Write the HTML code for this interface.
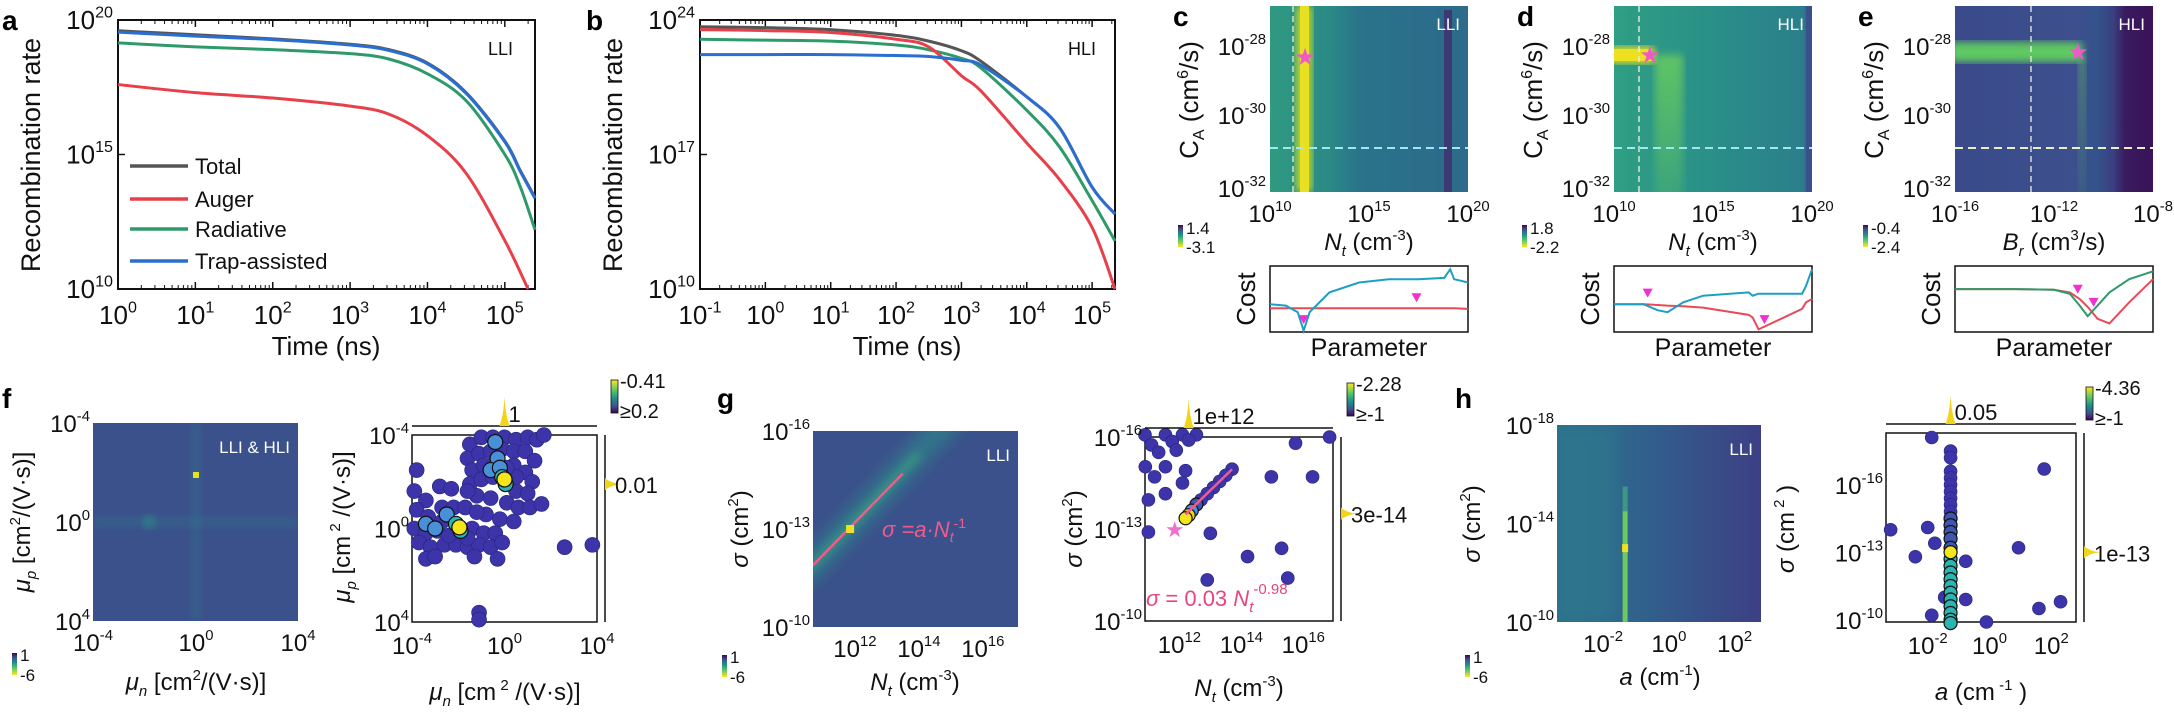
<!DOCTYPE html>
<html><head><meta charset="utf-8">
<style>
html,body{margin:0;padding:0;background:#fff;}
svg{display:block;font-family:"Liberation Sans Narrow","Liberation Sans",Arial,sans-serif;}
</style></head>
<body>
<svg id="fig" width="2174" height="719" viewBox="0 0 2174 719" xmlns="http://www.w3.org/2000/svg">
<defs>
<linearGradient id="vir" x1="0" y1="0" x2="0" y2="1">
<stop offset="0" stop-color="#fde725"/><stop offset="0.3" stop-color="#5ec962"/><stop offset="0.55" stop-color="#21918c"/><stop offset="0.8" stop-color="#3b528b"/><stop offset="1" stop-color="#440154"/>
</linearGradient>
<linearGradient id="virR" x1="0" y1="1" x2="0" y2="0">
<stop offset="0" stop-color="#fde725"/><stop offset="0.3" stop-color="#5ec962"/><stop offset="0.55" stop-color="#21918c"/><stop offset="0.8" stop-color="#3b528b"/><stop offset="1" stop-color="#440154"/>
</linearGradient>
<linearGradient id="gc" x1="0" x2="1"><stop offset="0" stop-color="#2f9a80"/><stop offset="0.3" stop-color="#2b8a86"/><stop offset="0.45" stop-color="#2a738a"/><stop offset="1" stop-color="#2d6a8b"/></linearGradient>
<linearGradient id="gd" x1="0" x2="1"><stop offset="0" stop-color="#2f9f84"/><stop offset="0.5" stop-color="#2a8f88"/><stop offset="0.95" stop-color="#2b7f8b"/><stop offset="1" stop-color="#3b4f8b"/></linearGradient>
<linearGradient id="ge" x1="0" x2="1"><stop offset="0" stop-color="#3a4a8b"/><stop offset="0.6" stop-color="#3d4f8c"/><stop offset="0.72" stop-color="#33538c"/><stop offset="0.8" stop-color="#3b3f80"/><stop offset="0.86" stop-color="#3a1a5e"/><stop offset="1" stop-color="#3a1258"/></linearGradient>
<linearGradient id="gh" x1="0" x2="1"><stop offset="0" stop-color="#2d6f8c"/><stop offset="0.4" stop-color="#30628c"/><stop offset="1" stop-color="#3d3f85"/></linearGradient>
<linearGradient id="gvfade" x1="0" y1="0" x2="0" y2="1"><stop offset="0" stop-color="#6ccf5c" stop-opacity="0.8"/><stop offset="1" stop-color="#6ccf5c" stop-opacity="0.2"/></linearGradient>
<filter id="blur4"><feGaussianBlur stdDeviation="4"/></filter>
<filter id="blur8"><feGaussianBlur stdDeviation="8"/></filter>
</defs>
</svg>
<script>
// ---------- data: panel a (LLI), log10 time and log10 rate ----------
const aTime = [0, 1, 2, 3, 3.5, 4, 4.5, 5, 5.2, 5.39];
const aTotal = [19.6, 19.45, 19.3, 19.1, 18.9, 18.4, 17.3, 15.5, 14.4, 13.4];
const aTrap = [19.55, 19.4, 19.27, 19.07, 18.87, 18.37, 17.27, 15.47, 14.37, 13.37];
const aRadTime = [0, 1, 2, 3, 3.5, 4, 4.5, 5, 5.2, 5.39];
const aRad = [19.15, 19.0, 18.9, 18.75, 18.55, 18.0, 17.0, 15.0, 13.8, 12.2];
const aAugTime = [0, 1, 2, 3, 3.5, 4, 4.5, 5, 5.3];
const aAug = [17.6, 17.3, 17.1, 16.8, 16.5, 15.7, 14.3, 11.8, 10.0];
// ---------- panel b (HLI) ----------
const bTime = [-1, 0, 1, 2, 2.5, 3, 3.3, 4, 4.5, 5, 5.35];
const bTotal = [23.65, 23.6, 23.5, 23.2, 22.9, 22.4, 21.85, 20.0, 18.4, 15.3, 13.9];
const bTrap = [22.2, 22.2, 22.2, 22.15, 22.1, 21.9, 21.65, 20.0, 18.4, 15.3, 13.9];
const bAug = [23.5, 23.45, 23.35, 23.0, 22.6, 21.1, 20.3, 17.6, 15.7, 13.2, 10.0];
const bRad = [23.0, 22.95, 22.9, 22.7, 22.45, 22.0, 21.5, 19.3, 17.4, 14.6, 12.5];
// ---------- cost curves (normalized param 0..1, cost 0..1) ----------
const costX = [0, 0.08, 0.14, 0.17, 0.2, 0.3, 0.45, 0.6, 0.75, 0.88, 0.91, 0.93, 1];
const costC1 = [0.42, 0.4, 0.3, 0.02, 0.3, 0.6, 0.75, 0.8, 0.8, 0.82, 0.95, 0.8, 0.75];
const costC2 = [0.36, 0.36, 0.36, 0.36, 0.36, 0.36, 0.36, 0.36, 0.36, 0.36, 0.36, 0.36, 0.35];
const costDX = [0, 0.15, 0.22, 0.27, 0.35, 0.45, 0.68, 0.7, 0.73, 0.95, 0.97, 1];
const costD1 = [0.42, 0.42, 0.33, 0.3, 0.45, 0.55, 0.6, 0.55, 0.58, 0.58, 0.7, 0.95];
const costD2 = [0.42, 0.42, 0.41, 0.4, 0.39, 0.37, 0.26, 0.22, 0.04, 0.35, 0.45, 0.5];
const costEX = [0, 0.3, 0.5, 0.58, 0.63, 0.67, 0.72, 0.78, 0.88, 1];
const costE1 = [0.65, 0.65, 0.64, 0.58, 0.4, 0.24, 0.4, 0.6, 0.8, 0.92];
const costE2 = [0.65, 0.65, 0.64, 0.6, 0.5, 0.38, 0.2, 0.13, 0.45, 0.8];
const costMarkC = [[0.17, 0.12], [0.74, 0.45]];
const costMarkD = [[0.17, 0.52], [0.76, 0.12]];
const costMarkE = [[0.62, 0.58], [0.7, 0.38]];
// ---------- scatter f: log mu_n, log mu_p, color level ----------
const fPts = [
[-1.5,-3.6,0],[-1.0,-3.9,0],[-0.5,-3.9,0],[0,-3.9,0],[0.5,-3.8,0],[1.0,-3.9,0],[1.4,-3.8,0],[-1.6,-3.0,0],[-1.1,-3.2,0],[-0.6,-3.3,0],[-0.1,-3.4,0],[0.4,-3.3,0],[0.9,-3.3,0],[1.3,-2.9,0],[-1.4,-2.5,0],[-0.9,-2.7,0],[-0.4,-2.8,0],[0.4,-2.7,0],[0.9,-2.4,0],[1.2,-2.0,0],[-1.5,-1.9,0],[-1.0,-2.1,0],[-0.5,-2.2,0],[0.5,-1.6,0],[1.0,-1.5,0],[-1.2,-1.4,0],[-0.6,-1.3,0],[0.1,-1.1,0],[0.6,-0.9,0],[1.1,-0.9,0],[-0.8,-0.6,0],[-0.2,-0.4,0],[0.4,-0.3,0],[0.5,-2.2,0],[0.1,-2.6,0],
[-3.9,-1.6,0],[-3.4,-1.2,0],[-2.8,-1.8,0],[-2.3,-1.7,0],[-1.6,-1.6,0],[-3.8,-0.8,0],[-3.3,-0.5,0],[-2.7,-0.9,0],[-2.2,-0.9,0],[-1.7,-0.9,0],[-1.2,-0.7,0],[-3.9,0,0],[-3.4,0.2,0],[-2.9,0.1,0],[-1.4,0,0],[-0.9,0.2,0],[-0.4,0.2,0],[-3.7,0.6,0],[-3.2,0.8,0],[-2.6,0.7,0],[-2.1,0.7,0],[-1.6,0.8,0],[-1.1,0.7,0],[-0.6,0.8,0],[-0.1,0.6,0],[-3.4,1.3,0],[-1.3,1.2,0],[-0.3,1.3,0],[-2.7,-0.3,0],[-1.6,0.4,0],[-2.4,0.3,0],
[-3.8,-2.5,0],[-3.0,1.2,0],[1.6,-1.05,0],[2.6,0.8,0],[3.8,0.7,0],[1.7,-4.0,0],[-1.1,3.6,0],[-1.1,3.9,0],
[-0.4,-3.7,0.3],[-0.3,-3.0,0.3],[-0.6,-2.5,0.3],[-0.2,-2.6,0.35],[-0.1,-2.2,0.5],[0.05,-1.9,0.5],[0.0,-2.1,0.75],[0.0,-2.1,1],
[-3.4,-0.2,0.3],[-3.0,0.0,0.35],[-2.5,-0.6,0.3],[-2.1,-0.2,0.5],[-1.9,0.1,0.5],[-1.95,-0.05,0.75],[-1.95,-0.05,1]];
// ---------- scatter g: log N_t, log sigma, color level ----------
const gPts = [
[10.89,-16.07,0],[11.55,-16.07,0],[12.1,-16.07,0],[12.55,-16.07,0],[16.85,-16.0,0],[15.75,-15.8,0],[11.1,-15.74,0],[11.77,-15.85,0],[12.3,-15.9,0],[11.33,-15.5,0],[11.9,-15.57,0],[10.9,-15.03,0],[11.55,-15.03,0],[12.2,-14.9,0],[11.2,-14.7,0],[12.1,-14.5,0],[11.55,-14.15,0],[11.0,-13.95,0],[14.97,-14.7,0],[16.3,-14.7,0],[13.0,-12.86,0],[14.2,-12.1,0],[15.3,-12.37,0],[12.9,-11.34,0],[15.5,-11.4,0],[11.0,-12.9,0],
[13.7,-14.95,0],[13.5,-14.75,0],[13.3,-14.55,0],[13.1,-14.35,0],[12.9,-14.15,0],[12.7,-13.95,0],[12.55,-13.8,0.2],[12.4,-13.6,0.4],[12.3,-13.45,0.7],[12.2,-13.35,1]];
const gStar = [11.85, -13.0];
const gFitN = [12.2, 13.7];
// ---------- scatter h: log a, log sigma, color level ----------
const hPts = [
[-1.87,-18.1,0],[1.77,-16.7,0],[-3.2,-14.0,0],[-2.0,-14.1,0],[-1.77,-13.4,0],[-2.4,-12.8,0],[0.94,-13.2,0],[-0.77,-12.6,0],[-1.45,-11.0,0],[-0.77,-10.9,0],[-1.87,-10.2,0],[-0.1,-9.9,0],[1.6,-10.5,0],[2.3,-10.8,0],
[-1.26,-17.5,0],[-1.26,-17.2,0],[-1.26,-16.6,0],[-1.26,-16.3,0],[-1.26,-16.0,0],[-1.26,-15.7,0],[-1.26,-15.4,0],[-1.26,-15.1,0],[-1.26,-14.8,0],[-1.26,-14.5,0.1],[-1.26,-14.2,0.15],[-1.26,-13.9,0.2],[-1.26,-13.6,0.2],
[-1.26,-12.7,0.5],[-1.26,-12.4,0.5],[-1.26,-12.1,0.5],[-1.26,-11.8,0.5],[-1.26,-11.5,0.5],[-1.26,-11.2,0.5],[-1.26,-10.9,0.5],[-1.26,-10.6,0.5],[-1.26,-10.3,0.5],[-1.26,-10.0,0.5],[-1.26,-9.85,0.5],
[-1.26,-13.2,0.2],[-1.26,-13.0,1]];
</script>
<script>
const NS = "http://www.w3.org/2000/svg";
const svg = document.getElementById('fig');
function mk(tag, attrs, parent) {
  const e = document.createElementNS(NS, tag);
  for (const k in attrs) e.setAttribute(k, attrs[k]);
  (parent || svg).appendChild(e);
  return e;
}
function lin(d0, d1, r0, r1) { return v => r0 + (v - d0) / (d1 - d0) * (r1 - r0); }
function txt(x, y, s, size, anchor, fill, parent) {
  const t = mk('text', {x: x, y: y, 'font-size': size, 'text-anchor': anchor || 'start', fill: fill || '#111'}, parent);
  t.textContent = s;
  return t;
}
function pow(x, y, base, exp, size, anchor, fill, parent) {
  const t = mk('text', {x: x, y: y, 'font-size': size, 'text-anchor': anchor || 'middle', fill: fill || '#111'}, parent);
  const a = mk('tspan', {}, t); a.textContent = base;
  const b = mk('tspan', {dy: -size * 0.45, 'font-size': size * 0.62}, t); b.textContent = exp;
  return t;
}
function smooth(pts) {
  let d = 'M' + pts[0][0] + ',' + pts[0][1];
  for (let i = 0; i < pts.length - 1; i++) {
    const p0 = pts[Math.max(0, i - 1)], p1 = pts[i], p2 = pts[i + 1], p3 = pts[Math.min(pts.length - 1, i + 2)];
    const c1x = p1[0] + (p2[0] - p0[0]) / 6, c1y = p1[1] + (p2[1] - p0[1]) / 6;
    const c2x = p2[0] - (p3[0] - p1[0]) / 6, c2y = p2[1] - (p3[1] - p1[1]) / 6;
    d += ' C' + c1x + ',' + c1y + ' ' + c2x + ',' + c2y + ' ' + p2[0] + ',' + p2[1];
  }
  return d;
}
function vir(c) {
  if (c >= 0.95) return '#f5e51b';
  if (c >= 0.7) return '#f0d020';
  if (c >= 0.45) return '#2bb4b0';
  if (c >= 0.3) return '#4a90d8';
  if (c >= 0.1) return '#3f56b0';
  return '#3c34a8';
}

// ================= Panel a =================
(function () {
  const g = mk('g', {});
  
  
  const X = lin(0, 5.39, 118, 535), Y = lin(20, 10, 20, 289);
  const lab = txt(2, 30, 'a', 28, 'start', '#000', g); lab.setAttribute('font-weight', 'bold'); lab.setAttribute('font-family', 'Liberation Sans');
  
  
  const frame = mk('rect', {x: 118, y: 20, width: 417, height: 269, fill: 'none', stroke: '#111', 'stroke-width': 2}, g);
  
  
  [10, 15, 20].forEach(v => {
    const t = pow(113, Y(v) + 9, '10', String(v), 26, 'end', '#111', g);
    
    
    mk('line', {x1: 118, x2: 125, y1: Y(v), y2: Y(v), stroke: '#111', 'stroke-width': 1.5}, g);
  });
  for (let v = 0; v <= 5; v++) {
    const t = pow(X(v), 324, '10', String(v), 26, 'middle', '#111', g);
    
    
    mk('line', {x1: X(v), x2: X(v), y1: 289, y2: 282, stroke: '#111', 'stroke-width': 1.5}, g);
    mk('line', {x1: X(v), x2: X(v), y1: 20, y2: 27, stroke: '#111', 'stroke-width': 1.5}, g);
    for (let k = 2; k < 10; k++) {
      const xv = v + Math.log10(k);
      if (xv <= 5.39) {
        mk('line', {x1: X(xv), x2: X(xv), y1: 289, y2: 285, stroke: '#111', 'stroke-width': 1}, g);
        mk('line', {x1: X(xv), x2: X(xv), y1: 20, y2: 24, stroke: '#111', 'stroke-width': 1}, g);
      }
    }
  }
  const yt = txt(0, 0, 'Recombination rate', 27, 'middle', '#111', g);
  yt.setAttribute('transform', 'translate(40,155) rotate(-90)');
  yt.setAttribute('font-family', 'Liberation Sans');
  
  
  const xt = txt(326, 355, 'Time (ns)', 26, 'middle', '#111', g);
  
  
  const ll = txt(488, 55, 'LLI', 18, 'start', '#111', g);
  
  
  const series = [[aTime, aTotal, '#555'], [aAugTime, aAug, '#e8404a'], [aRadTime, aRad, '#2e9a6a'], [aTime, aTrap, '#2a6fd0']];
  const names = ['series-total', 'series-auger', 'series-radiative', 'series-trap'];
  series.forEach((s, i) => {
    const p = mk('path', {d: smooth(s[0].map((t, j) => [X(t), Y(s[1][j])])), fill: 'none', stroke: s[2], 'stroke-width': 3}, g);
    
    
  });
  const legN = ['Total', 'Auger', 'Radiative', 'Trap-assisted'], legC = ['#555', '#e8404a', '#2e9a6a', '#2a6fd0'], legY = [166, 199, 229, 261];
  legN.forEach((n, i) => {
    const e = mk('g', {}, g);
    
    
    mk('line', {x1: 130, x2: 188, y1: legY[i], y2: legY[i], stroke: legC[i], 'stroke-width': 3.5}, e);
    txt(195, legY[i] + 8, n, 22, 'start', '#111', e);
  });
})();

// ================= Panel b =================
(function () {
  const g = mk('g', {});
  
  
  const X = lin(-1, 5.35, 700, 1115), Y = lin(24, 10, 20, 289);
  const lab = txt(586, 30, 'b', 28, 'start', '#000', g); lab.setAttribute('font-weight', 'bold'); lab.setAttribute('font-family', 'Liberation Sans');
  
  
  const frame = mk('rect', {x: 700, y: 20, width: 415, height: 269, fill: 'none', stroke: '#111', 'stroke-width': 2}, g);
  
  
  [10, 17, 24].forEach(v => {
    const t = pow(695, Y(v) + 9, '10', String(v), 26, 'end', '#111', g);
    
    
    mk('line', {x1: 700, x2: 707, y1: Y(v), y2: Y(v), stroke: '#111', 'stroke-width': 1.5}, g);
  });
  for (let v = -1; v <= 5; v++) {
    const t = pow(X(v), 324, '10', String(v), 26, 'middle', '#111', g);
    
    
    mk('line', {x1: X(v), x2: X(v), y1: 289, y2: 282, stroke: '#111', 'stroke-width': 1.5}, g);
    mk('line', {x1: X(v), x2: X(v), y1: 20, y2: 27, stroke: '#111', 'stroke-width': 1.5}, g);
    for (let k = 2; k < 10; k++) {
      const xv = v + Math.log10(k);
      if (xv <= 5.35) {
        mk('line', {x1: X(xv), x2: X(xv), y1: 289, y2: 285, stroke: '#111', 'stroke-width': 1}, g);
        mk('line', {x1: X(xv), x2: X(xv), y1: 20, y2: 24, stroke: '#111', 'stroke-width': 1}, g);
      }
    }
  }
  const yt = txt(0, 0, 'Recombination rate', 27, 'middle', '#111', g);
  yt.setAttribute('transform', 'translate(622,155) rotate(-90)');
  yt.setAttribute('font-family', 'Liberation Sans');
  
  
  const xt = txt(907, 355, 'Time (ns)', 26, 'middle', '#111', g);
  
  
  const ll = txt(1068, 55, 'HLI', 18, 'start', '#111', g);
  
  
  const series = [[bTotal, '#555'], [bRad, '#2e9a6a'], [bAug, '#e8404a'], [bTrap, '#2a6fd0']];
  const names = ['series-total', 'series-radiative', 'series-auger', 'series-trap'];
  series.forEach((s, i) => {
    const p = mk('path', {d: smooth(bTime.map((t, j) => [X(t), Y(s[0][j])])), fill: 'none', stroke: s[1], 'stroke-width': 3}, g);
    
    
  });
})();

// ================= Panels c, d, e (heatmaps + cost) =================
function heatPanel(o) {
  const g = mk('g', {});
  
  
  const x0 = o.x0, x1 = x0 + 198, y0 = 6, y1 = 192;
  const lab = txt(x0 - 97, 26, o.letter, 28, 'start', '#000', g); lab.setAttribute('font-weight', 'bold'); lab.setAttribute('font-family', 'Liberation Sans');
  
  
  const hm = mk('g', {}, g);
  
  
  const cp = mk('clipPath', {id: 'clip-' + o.name}, g);
  mk('rect', {x: x0, y: y0, width: 198, height: 186}, cp);
  hm.setAttribute('clip-path', 'url(#clip-' + o.name + ')');
  mk('rect', {x: x0, y: y0, width: 198, height: 186, fill: o.bg}, hm);
  o.draw(hm, x0, y0);
  mk('line', {x1: o.vd, x2: o.vd, y1: y0, y2: y1, stroke: '#f0f0e0', 'stroke-width': 1.3, 'stroke-dasharray': '6,4'}, hm);
  mk('line', {x1: x0, x2: x1, y1: 148, y2: 148, stroke: o.hdc, 'stroke-width': 2, 'stroke-dasharray': '8,5'}, hm);
  const st = txt(o.star[0], o.star[1] + 8, '★', 24, 'middle', '#f058c8', hm);
  
  
  const ll = txt(x1 - 8, 30, o.cond, 17, 'end', '#fff', hm);
  
  
  [[-28, 46], [-30, 115], [-32, 188]].forEach(t => {
    const e = pow(x0 - 4, t[1] + 9, '10', String(t[0]), 24, 'end', '#111', g);
    
    
  });
  const yt = mk('text', {'font-size': 26, 'text-anchor': 'middle', fill: '#111', transform: 'translate(' + (x0 - 72) + ',100) rotate(-90)', 'font-family': 'Liberation Sans'}, g);
  
  
  const a1 = mk('tspan', {}, yt); a1.textContent = 'C';
  const a2 = mk('tspan', {dy: 6, 'font-size': 16}, yt); a2.textContent = 'A';
  const a3 = mk('tspan', {dy: -6}, yt); a3.textContent = ' (cm';
  const a4 = mk('tspan', {dy: -10, 'font-size': 16}, yt); a4.textContent = '6';
  const a5 = mk('tspan', {dy: 10}, yt); a5.textContent = '/s)';
  o.xt.forEach((t, i) => {
    const e = pow(x0 + i * 99, 222, '10', t, 24, 'middle', '#111', g);
    
    
  });
  const xt = mk('text', {x: x0 + 99, y: 250, 'font-size': 24, 'text-anchor': 'middle', fill: '#111'}, g);
  
  
  const b1 = mk('tspan', {'font-style': 'italic'}, xt); b1.textContent = o.xv;
  const b2 = mk('tspan', {dy: 6, 'font-size': 15, 'font-style': 'italic'}, xt); b2.textContent = o.xs;
  const b3 = mk('tspan', {dy: -6}, xt); b3.textContent = ' (cm';
  const b4 = mk('tspan', {dy: -10, 'font-size': 15}, xt); b4.textContent = o.xe;
  const b5 = mk('tspan', {dy: 10}, xt); b5.textContent = o.xu;
  const cb = mk('g', {}, g);
  
  
  mk('rect', {x: x0 - 92, y: 225, width: 5, height: 22, fill: 'url(#virR)'}, cb);
  txt(x0 - 84, 234, o.cb[0], 17, 'start', '#111', cb);
  txt(x0 - 84, 253, o.cb[1], 17, 'start', '#111', cb);
  const cg = mk('g', {}, g);
  
  
  const CX = lin(0, 1, x0, x1), CY = lin(0, 1, 332, 266);
  mk('rect', {x: x0, y: 266, width: 198, height: 66, fill: '#fff', stroke: '#111', 'stroke-width': 1.5}, cg);
  o.cost.forEach(c => {
    const p = mk('path', {d: 'M' + c[0].map((v, j) => CX(v) + ',' + CY(c[1][j])).join(' L'), fill: 'none', stroke: c[2], 'stroke-width': 2}, cg);
    
    
  });
  o.marks.forEach(m => {
    const x = CX(m[0]), y = CY(m[1]);
    const tr = mk('path', {d: `M${x - 5},${y - 9} L${x + 5},${y - 9} L${x},${y} Z`, fill: '#f030d0'}, cg);
    
    
  });
  const ct = txt(0, 0, 'Cost', 26, 'middle', '#111', cg);
  ct.setAttribute('transform', 'translate(' + (x0 - 15) + ',299) rotate(-90)');
  ct.setAttribute('font-family', 'Liberation Sans');
  
  
  const pt = txt(x0 + 99, 356, 'Parameter', 25, 'middle', '#111', cg);
  
  
}
heatPanel({name: 'panel-c', letter: 'c', x0: 1270, bg: 'url(#gc)', vd: 1293, hdc: '#9ee8f0', star: [1305, 57], cond: 'LLI',
  xt: ['10', '15', '20'], xv: 'N', xs: 't', xe: '-3', xu: ')', cb: ['1.4', '-3.1'],
  draw: (hm, x0, y0) => {
    mk('rect', {x: 1296, y: y0, width: 16, height: 186, fill: '#b8d830', filter: 'url(#blur4)'}, hm);
    mk('rect', {x: 1300, y: y0, width: 9, height: 186, fill: '#e8e020'}, hm);
    mk('rect', {x: 1444, y: y0 + 4, width: 8, height: 182, fill: '#43306e', opacity: 0.85}, hm);
  },
  cost: [[costX, costC2, '#e84a58'], [costX, costC1, '#1da0c0']], marks: costMarkC});
heatPanel({name: 'panel-d', letter: 'd', x0: 1614, bg: 'url(#gd)', vd: 1639, hdc: '#9ee8f0', star: [1650, 55], cond: 'HLI',
  xt: ['10', '15', '20'], xv: 'N', xs: 't', xe: '-3', xu: ')', cb: ['1.8', '-2.2'],
  draw: (hm, x0, y0) => {
    mk('rect', {x: 1655, y: 55, width: 28, height: 150, fill: 'url(#gvfade)', filter: 'url(#blur4)'}, hm);
    mk('rect', {x: 1610, y: 47, width: 44, height: 16, fill: '#e8e020', filter: 'url(#blur4)'}, hm);
    mk('rect', {x: 1614, y: 49, width: 38, height: 12, fill: '#ece020'}, hm);
    mk('rect', {x: 1806, y: y0, width: 6, height: 186, fill: '#3b4f8b'}, hm);
  },
  cost: [[costDX, costD2, '#e84a58'], [costDX, costD1, '#1da0c0']], marks: costMarkD});
heatPanel({name: 'panel-e', letter: 'e', x0: 1955, bg: 'url(#ge)', vd: 2031, hdc: '#e8f0c8', star: [2078, 52], cond: 'HLI',
  xt: ['-16', '-12', '-8'], xv: 'B', xs: 'r', xe: '3', xu: '/s)', cb: ['-0.4', '-2.4'],
  draw: (hm, x0, y0) => {
    mk('rect', {x: 1950, y: 42, width: 132, height: 20, fill: '#5ec962', filter: 'url(#blur4)'}, hm);
    mk('rect', {x: 2078, y: 55, width: 8, height: 140, fill: 'url(#gvfade)', opacity: 0.55, filter: 'url(#blur4)'}, hm);
  },
  cost: [[costEX, costE2, '#e84a58'], [costEX, costE1, '#2e9a6a']], marks: costMarkE});

// ================= bottom heatmaps =================
function bottomHeat(o) {
  const g = mk('g', {});
  
  
  mk('rect', {x: o.x0, y: o.y0, width: o.x1 - o.x0, height: o.y1 - o.y0, fill: o.bg}, g);
  const cp = mk('clipPath', {id: 'clip-' + o.name}, g);
  mk('rect', {x: o.x0, y: o.y0, width: o.x1 - o.x0, height: o.y1 - o.y0}, cp);
  const inner = mk('g', {'clip-path': 'url(#clip-' + o.name + ')'}, g);
  o.draw(inner);
  const ll = txt(o.x1 - 8, o.y0 + 30, o.cond, 17, 'end', '#fff', g);
  
  
  o.yt.forEach(t => {
    const e = pow(o.x0 - 3, t[1] + 9, '10', t[0], 24, 'end', '#111', g);
    
    
  });
  o.xt.forEach(t => {
    const e = pow(t[1], o.y1 + 30, '10', t[0], 24, 'middle', '#111', g);
    
    
  });
  const cb = mk('g', {}, g);
  
  
  mk('rect', {x: o.cbx, y: o.cby, width: 5, height: 22, fill: 'url(#virR)'}, cb);
  txt(o.cbx + 8, o.cby + 8, '1', 17, 'start', '#111', cb);
  txt(o.cbx + 8, o.cby + 28, '-6', 17, 'start', '#111', cb);
  return g;
}
function scatterBox(o) {
  const g = mk('g', {});
  
  
  const X = lin(o.xd[0], o.xd[1], o.x0, o.x1), Y = lin(o.yd[0], o.yd[1], o.y0, o.y1);
  mk('rect', {x: o.x0, y: o.y0, width: o.x1 - o.x0, height: o.y1 - o.y0, fill: '#fff', stroke: '#111', 'stroke-width': 1.5}, g);
  const r = o.r || 6.5;
  o.pts.forEach(p => {
    const c = mk('circle', {cx: X(p[0]), cy: Y(p[1]), r: r, fill: vir(p[2]), stroke: p[2] > 0 ? '#111' : '#26267a', 'stroke-width': p[2] > 0 ? 1.2 : 0.6}, g);
    
    
  });
  o.yt.forEach(t => {
    const e = pow(o.x0 - 3, Y(t) + 9, '10', String(t), 24, 'end', '#111', g);
    
    
  });
  o.xt.forEach(t => {
    const e = pow(X(t), o.y1 + 32, '10', String(t), 24, 'middle', '#111', g);
    
    
  });
  const mt = mk('g', {}, g);
  
  
  mk('line', {x1: o.x0, x2: o.x1, y1: o.y0 - 9, y2: o.y0 - 9, stroke: '#111', 'stroke-width': 1.5}, mt);
  const sx = X(o.topPeak);
  mk('path', {d: `M${sx - 5},${o.y0 - 9} Q${sx - 1},${o.y0 - 20} ${sx},${o.y0 - 38} Q${sx + 1},${o.y0 - 20} ${sx + 5},${o.y0 - 9} Z`, fill: '#f2d51a'}, mt);
  txt(sx + 4, o.y0 - 13, o.topLabel, 22, 'start', '#111', mt);
  const mr = mk('g', {}, g);
  
  
  mk('line', {x1: o.x1 + 8, x2: o.x1 + 8, y1: o.y0, y2: o.y1, stroke: '#111', 'stroke-width': 1.5}, mr);
  const sy = Y(o.rightPeak);
  mk('path', {d: `M${o.x1 + 8},${sy - 6} Q${o.x1 + 14},${sy - 1} ${o.x1 + 24},${sy} Q${o.x1 + 14},${sy + 1} ${o.x1 + 8},${sy + 6} Z`, fill: '#f2d51a'}, mr);
  txt(o.x1 + 18, sy + 9, o.rightLabel, 22, 'start', '#111', mr);
  const cb = mk('g', {}, g);
  
  
  mk('rect', {x: o.cbx, y: o.cby, width: 7, height: 33, fill: 'url(#vir)', stroke: '#111', 'stroke-width': 0.8}, cb);
  txt(o.cbx + 9, o.cby + 8, o.cb[0], 20, 'start', '#111', cb);
  txt(o.cbx + 9, o.cby + 38, o.cb[1], 20, 'start', '#111', cb);
  return {g: g, X: X, Y: Y};
}
function letter(x, y, s) {
  const t = txt(x, y, s, 28, 'start', '#000');
  t.setAttribute('font-weight', 'bold'); t.setAttribute('font-family', 'Liberation Sans');
  
  
}
function rotTitle(x, y, parts) {
  const t = mk('text', {'font-size': 24, 'text-anchor': 'middle', fill: '#111', transform: `translate(${x},${y}) rotate(-90)`});
  
  
  parts.forEach(p => { const s = mk('tspan', p[1] || {}, t); s.textContent = p[0]; });
}
function hTitle(x, y, parts) {
  const t = mk('text', {x: x, y: y, 'font-size': 24, 'text-anchor': 'middle', fill: '#111'});
  
  
  parts.forEach(p => { const s = mk('tspan', p[1] || {}, t); s.textContent = p[0]; });
}
const it = {'font-style': 'italic'};

// ---- f ----
letter(2, 408, 'f');
bottomHeat({name: 'panel-f-heatmap', x0: 93, x1: 298, y0: 423, y1: 621, bg: '#3b518b', cond: 'LLI & HLI',
  yt: [['-4', 423], ['0', 522], ['4', 621]], xt: [['-4', 93], ['0', 196], ['4', 298]], cbx: 12, cby: 653,
  draw: inner => {
    mk('rect', {x: 190, y: 423, width: 12, height: 198, fill: '#2f7a8c', opacity: 0.3, filter: 'url(#blur4)'}, inner);
    mk('rect', {x: 93, y: 516, width: 205, height: 12, fill: '#2f7a8c', opacity: 0.3, filter: 'url(#blur4)'}, inner);
    mk('circle', {cx: 149, cy: 522, r: 7, fill: '#2a9a88', opacity: 0.45, filter: 'url(#blur4)'}, inner);
    mk('rect', {x: 193, y: 472, width: 6, height: 6, fill: '#e8e020'}, inner);
  }});
rotTitle(30, 522, [['μ', it], ['p', {dy: 6, 'font-size': 15, 'font-style': 'italic'}], [' [cm', {dy: -6}], ['2', {dy: -10, 'font-size': 15}], ['/(V·s)]', {dy: 10}]]);
hTitle(196, 690, [['μ', it], ['n', {dy: 6, 'font-size': 15, 'font-style': 'italic'}], [' [cm', {dy: -6}], ['2', {dy: -10, 'font-size': 15}], ['/(V·s)]', {dy: 10}]]);
scatterBox({name: 'panel-f-scatter', x0: 412, x1: 597, y0: 435, y1: 622, xd: [-4, 4], yd: [-4, 4], pts: fPts, r: 7.5,
  yt: [-4, 0, 4], xt: [-4, 0, 4], topPeak: 0, topLabel: '1', rightPeak: -1.9, rightLabel: '0.01',
  cbx: 611, cby: 380, cb: ['-0.41', '≥0.2']});
rotTitle(350, 527, [['μ', it], ['p', {dy: 6, 'font-size': 15, 'font-style': 'italic'}], [' [cm', {dy: -6}], [' 2', {dy: -10, 'font-size': 15}], [' /(V·s)]', {dy: 10}]]);
hTitle(505, 700, [['μ', it], ['n', {dy: 6, 'font-size': 15, 'font-style': 'italic'}], [' [cm', {dy: -6}], [' 2', {dy: -10, 'font-size': 15}], [' /(V·s)]', {dy: 10}]]);

// ---- g ----
letter(717, 408, 'g');
(function () {
  const GX = lin(10.69, 17.1, 813, 1018), GY = lin(-16, -10, 431, 627);
  bottomHeat({name: 'panel-g-heatmap', x0: 813, x1: 1018, y0: 431, y1: 627, bg: '#3b518b', cond: 'LLI',
    yt: [['-16', 431], ['-13', 529], ['-10', 627]], xt: [['12', GX(12)], ['14', GX(14)], ['16', GX(16)]], cbx: 722, cby: 655,
    draw: inner => {
      const b = mk('line', {x1: GX(10.3), y1: GY(-11.5), x2: GX(15.2), y2: GY(-16.6), stroke: '#2a8f8a', 'stroke-width': 26, opacity: 0.6, filter: 'url(#blur8)'}, inner);
      
      
      mk('line', {x1: GX(10.3), y1: GY(-11.5), x2: GX(14), y2: GY(-15.3), stroke: '#40b080', 'stroke-width': 8, opacity: 0.5, filter: 'url(#blur4)'}, inner);
      const l = mk('line', {x1: GX(10.69), y1: GY(-1.2 - 10.69), x2: GX(13.5), y2: GY(-1.2 - 13.5), stroke: '#f05a8c', 'stroke-width': 2.5}, inner);
      
      
      mk('rect', {x: GX(11.85) - 4, y: GY(-13) - 4, width: 8, height: 8, fill: '#f0e020'}, inner);
    }});
  const t = mk('text', {x: 882, y: 537, 'font-size': 22, fill: '#f05a8c', 'font-style': 'italic'});
  
  
  const s1 = mk('tspan', {}, t); s1.textContent = 'σ =a·N';
  const s2 = mk('tspan', {dy: 5, 'font-size': 14}, t); s2.textContent = 't';
  const s3 = mk('tspan', {dy: -14, 'font-size': 14, 'font-style': 'normal'}, t); s3.textContent = '-1';
})();
rotTitle(748, 529, [['σ', it], [' (cm'], ['2', {dy: -10, 'font-size': 15}], [')', {dy: 10}]]);
hTitle(915, 690, [['N', it], ['t', {dy: 6, 'font-size': 15, 'font-style': 'italic'}], [' (cm', {dy: -6}], ['-3', {dy: -10, 'font-size': 15}], [')', {dy: 10}]]);
(function () {
  const s = scatterBox({name: 'panel-g-scatter', x0: 1145, x1: 1333, y0: 437, y1: 621, xd: [10.89, 16.96], yd: [-16, -10], pts: gPts,
    yt: [-16, -13, -10], xt: [12, 14, 16], topPeak: 12.3, topLabel: '1e+12', rightPeak: -13.5, rightLabel: '3e-14',
    cbx: 1347, cby: 383, cb: ['-2.28', '≥-1']});
  const l = mk('line', {x1: s.X(gFitN[0]), y1: s.Y(-1.52 - 0.98 * gFitN[0]), x2: s.X(gFitN[1]), y2: s.Y(-1.52 - 0.98 * gFitN[1]), stroke: '#f05a8c', 'stroke-width': 2.5}, s.g);
  
  
  const st = txt(s.X(gStar[0]), s.Y(gStar[1]) + 8, '★', 22, 'middle', '#f070d0', s.g);
  
  
  const t = mk('text', {x: 1146, y: 606, 'font-size': 22, fill: '#e8457a'}, s.g);
  
  
  const a = mk('tspan', {'font-style': 'italic'}, t); a.textContent = 'σ';
  const b = mk('tspan', {}, t); b.textContent = ' = 0.03 ';
  const c = mk('tspan', {'font-style': 'italic'}, t); c.textContent = 'N';
  const d = mk('tspan', {dy: 6, 'font-size': 15, 'font-style': 'italic'}, t); d.textContent = 't';
  const e = mk('tspan', {dy: -18, 'font-size': 15}, t); e.textContent = '-0.98';
})();
rotTitle(1082, 529, [['σ', it], [' (cm'], ['2', {dy: -10, 'font-size': 15}], [')', {dy: 10}]]);
hTitle(1239, 696, [['N', it], ['t', {dy: 6, 'font-size': 15, 'font-style': 'italic'}], [' (cm', {dy: -6}], ['-3', {dy: -10, 'font-size': 15}], [')', {dy: 10}]]);

// ---- h ----
letter(1455, 408, 'h');
(function () {
  const HX = lin(-3.4, 2.8, 1557, 1761), HY = lin(-18, -10, 425, 622);
  bottomHeat({name: 'panel-h-heatmap', x0: 1557, x1: 1761, y0: 425, y1: 622, bg: 'url(#gh)', cond: 'LLI',
    yt: [['-18', 425], ['-14', HY(-14)], ['-10', 622]], xt: [['-2', HX(-2)], ['0', HX(0)], ['2', HX(2)]], cbx: 1465, cby: 655,
    draw: inner => {
      mk('rect', {x: 1557, y: 425, width: 60, height: 197, fill: '#2d7a8c', opacity: 0.6, filter: 'url(#blur8)'}, inner);
      const v = mk('rect', {x: HX(-1.33) - 2.5, y: HY(-14.5), width: 5, height: HY(-10) - HY(-14.5), fill: '#6cc860'}, inner);
      
      
      mk('rect', {x: HX(-1.33) - 2.5, y: HY(-15.5), width: 5, height: HY(-14.5) - HY(-15.5), fill: '#4ab880', opacity: 0.6}, inner);
      mk('rect', {x: HX(-1.33) - 3, y: HY(-13) - 4, width: 6, height: 8, fill: '#f0e020'}, inner);
    }});
})();
rotTitle(1480, 524, [['σ', it], [' (cm'], ['2', {dy: -10, 'font-size': 15}], [')', {dy: 10}]]);
hTitle(1660, 685, [['a', it], [' (cm'], ['-1', {dy: -10, 'font-size': 15}], [')', {dy: 10}]]);
scatterBox({name: 'panel-h-scatter', x0: 1886, x1: 2076, y0: 433, y1: 622, xd: [-3.35, 2.8], yd: [-18.3, -9.9], pts: hPts,
  yt: [-16, -13, -10], xt: [-2, 0, 2], topPeak: -1.26, topLabel: '0.05', rightPeak: -13.0, rightLabel: '1e-13',
  cbx: 2086, cby: 387, cb: ['-4.36', '≥-1']});
rotTitle(1794, 529, [['σ', it], [' (cm'], [' 2', {dy: -10, 'font-size': 15}], [' )', {dy: 10}]]);
hTitle(1981, 700, [['a', it], [' (cm'], [' -1', {dy: -10, 'font-size': 15}], [' )', {dy: 10}]]);
</script>
</body></html>
